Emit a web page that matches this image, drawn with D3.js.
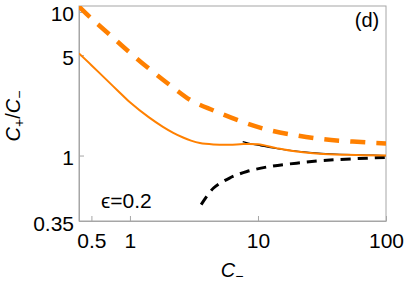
<!DOCTYPE html>
<html>
<head>
<meta charset="utf-8">
<script src="https://cdn.jsdelivr.net/npm/d3@7"></script>
<style>
  html, body { margin: 0; padding: 0; background: #fff; }
  svg { display: block; font-family: "Liberation Sans", Arial, sans-serif; }
  .axis path, .axis line { stroke: #a6a6a6; }
  .axis text { fill: #000; font-size: 21px; font-family: "Liberation Sans", Arial, sans-serif; }
</style>
</head>
<body>
<div id="chart"></div>
<script>
// Values (C_- on x, C_+/C_- on y, both log)
const dashedOrangeC = [0.4, 0.5, 0.7, 1, 1.5, 2.2, 3, 4.5, 7.5, 12, 20, 32, 55, 100];
const dashedOrangeV = [10.9, 9.0, 6.9, 5.2, 3.85, 2.95, 2.42, 2.06, 1.72, 1.51, 1.38, 1.30, 1.25, 1.215];

const solidOrangeC = [0.4, 0.5, 0.66, 0.8, 1, 1.4, 1.81, 2.18, 2.6, 3, 3.52, 4.48, 6, 7.7, 10, 14, 20, 30, 50, 100];
const solidOrangeV = [5.14, 4.26, 3.35, 2.84, 2.35, 1.85, 1.585, 1.44, 1.335, 1.27, 1.222, 1.195, 1.188, 1.203, 1.197, 1.126, 1.066, 1.028, 1.011, 1.0];

const blackSolidC = [7.6, 9, 10.5, 13, 17, 25, 40, 70, 100];
const blackSolidV = [1.25, 1.2, 1.17, 1.13, 1.09, 1.05, 1.022, 1.007, 1.0];

const blackDashedC = [3.6, 4.5, 6, 8.2, 12.4, 20, 32, 55, 100];
const blackDashedV = [0.455, 0.594, 0.697, 0.774, 0.839, 0.885, 0.923, 0.949, 0.97];

const xTicks = [0.5, 1, 10, 100];
const yTicks = [0.35, 1, 5, 10];
const xDomain = [0.4, 100];
const yDomain = [0.35, 11];

const width = 407, height = 283;
const margin = { top: 6, right: 21, bottom: 62, left: 79 };

const svg = d3.select('#chart').append('svg')
    .attr('width', width)
    .attr('height', height);

const x = d3.scaleLog().domain(xDomain).range([margin.left, width - margin.right]);
const y = d3.scaleLog().domain(yDomain).range([height - margin.bottom, margin.top]);

const fmt = (d) => String(d);

// Frame
svg.append('rect')
    .attr('x', margin.left)
    .attr('y', margin.top)
    .attr('width', width - margin.left - margin.right)
    .attr('height', height - margin.top - margin.bottom)
    .attr('fill', 'none')
    .attr('stroke', '#a6a6a6');

// Axes with inward ticks
const xAxis = svg.append('g')
    .attr('class', 'axis')
    .attr('transform', `translate(0,${height - margin.bottom})`)
    .call(d3.axisBottom(x).tickValues(xTicks).tickFormat(fmt).tickSizeInner(-5).tickSizeOuter(0).tickPadding(12));
xAxis.selectAll('text').attr('dy', '0.71em');

const yAxis = svg.append('g')
    .attr('class', 'axis')
    .attr('transform', `translate(${margin.left},0)`)
    .call(d3.axisLeft(y).tickValues(yTicks).tickFormat(fmt).tickSizeInner(-5).tickSizeOuter(0).tickPadding(5));
yAxis.selectAll('text').attr('dy', '0.43em');

// Clip lines to the plot area
svg.append('clipPath').attr('id', 'plot-clip')
    .append('rect')
    .attr('x', margin.left)
    .attr('y', margin.top)
    .attr('width', width - margin.left - margin.right)
    .attr('height', height - margin.top - margin.bottom);

const line = d3.line()
    .x((d) => x(d[0]))
    .y((d) => y(d[1]))
    .curve(d3.curveCatmullRom.alpha(0.5));

const zip = (cs, vs) => cs.map((c, i) => [c, vs[i]]);

const plot = svg.append('g').attr('clip-path', 'url(#plot-clip)');

const series = [
    { data: zip(blackSolidC, blackSolidV), color: '#000', width: 1.3, dash: null },
    { data: zip(blackDashedC, blackDashedV), color: '#000', width: 3, dash: '10,7' },
    { data: zip(dashedOrangeC, dashedOrangeV), color: '#ff8000', width: 4.5, dash: '15,11' },
    { data: zip(solidOrangeC, solidOrangeV), color: '#ff8000', width: 2, dash: null }
];

plot.selectAll('path.curve')
    .data(series)
    .join('path')
    .attr('class', 'curve')
    .attr('d', (d) => line(d.data))
    .attr('fill', 'none')
    .attr('stroke', (d) => d.color)
    .attr('stroke-width', (d) => d.width)
    .attr('stroke-dasharray', (d) => d.dash);

// Axis titles
const xTitle = svg.append('text')
    .attr('x', 232)
    .attr('y', 277)
    .attr('text-anchor', 'middle')
    .attr('font-size', 20);
xTitle.append('tspan').attr('font-style', 'italic').text('C');
xTitle.append('tspan').attr('font-size', 14).attr('dy', 4).text('−');

const yTitle = svg.append('text')
    .attr('transform', 'translate(20,116) rotate(-90)')
    .attr('text-anchor', 'middle')
    .attr('font-size', 20);
yTitle.append('tspan').attr('font-style', 'italic').text('C');
yTitle.append('tspan').attr('font-size', 14).attr('dy', 4).text('+');
yTitle.append('tspan').attr('dy', -4).text('/');
yTitle.append('tspan').attr('font-style', 'italic').text('C');
yTitle.append('tspan').attr('font-size', 14).attr('dy', 4).text('−');

// Panel label and parameter
svg.append('text')
    .attr('x', 367)
    .attr('y', 27)
    .attr('text-anchor', 'middle')
    .attr('font-size', 20)
    .text('(d)');

svg.append('text')
    .attr('x', 101)
    .attr('y', 208)
    .attr('font-size', 21)
    .text('ϵ=0.2');
</script>
</body>
</html>
